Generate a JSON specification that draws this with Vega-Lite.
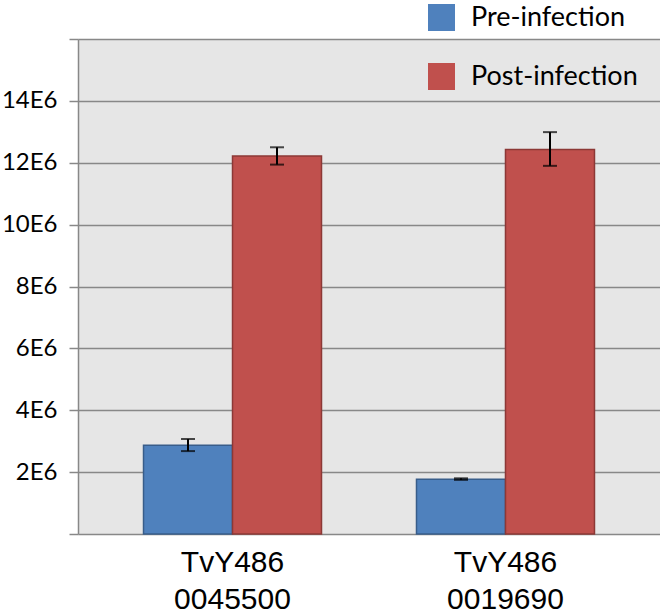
{
  "$schema": "https://vega.github.io/schema/vega-lite/v6.json",
  "width": 582,
  "height": 495,
  "autosize": "none",
  "padding": {"left": 78, "top": 39, "right": 0, "bottom": 80},
  "background": "white",
  "config": {
    "view": {"fill": "#E6E6E6", "stroke": null},
    "font": "Lato"
  },
  "data": {
    "values": [
      {"gene": "TvY486 0045500", "series": "Pre-infection", "value": 2.87e6, "lo": 2.68e6, "hi": 3.07e6},
      {"gene": "TvY486 0045500", "series": "Post-infection", "value": 12.22e6, "lo": 11.94e6, "hi": 12.5e6},
      {"gene": "TvY486 0019690", "series": "Pre-infection", "value": 1.77e6, "lo": 1.75e6, "hi": 1.8e6},
      {"gene": "TvY486 0019690", "series": "Post-infection", "value": 12.43e6, "lo": 11.9e6, "hi": 12.99e6}
    ]
  },
  "encoding": {
    "x": {
      "field": "gene",
      "type": "nominal",
      "sort": ["TvY486 0045500", "TvY486 0019690"],
      "scale": {"paddingInner": 0.348, "paddingOuter": 0.24},
      "axis": {
        "title": null,
        "domain": false,
        "ticks": false,
        "labelAngle": 0,
        "labelFont": "Liberation Sans",
        "labelFontSize": 30,
        "labelLineHeight": 37,
        "labelColor": "#000000",
        "labelPadding": 13,
        "labelExpr": "split(datum.value, ' ')"
      }
    },
    "xOffset": {
      "field": "series",
      "type": "nominal",
      "sort": ["Pre-infection", "Post-infection"],
      "scale": {"paddingInner": 0, "paddingOuter": 0}
    }
  },
  "layer": [
    {
      "mark": {"type": "bar", "strokeWidth": 1.5},
      "encoding": {
        "y": {
          "field": "value",
          "type": "quantitative",
          "scale": {"domain": [0, 16000000], "nice": false},
          "axis": {
            "title": null,
            "values": [0, 2000000, 4000000, 6000000, 8000000, 10000000, 12000000, 14000000, 16000000],
            "labelExpr": "datum.value == 0 || datum.value == 16000000 ? '' : (datum.value / 1000000) + 'E6'",
            "labelFontSize": 24,
            "labelFont": "Lato",
            "labelColor": "#000000",
            "labelPadding": 12,
            "tickSize": 9,
            "tickColor": "#888888",
            "tickWidth": 1.5,
            "domainColor": "#888888",
            "domainWidth": 1.5,
            "grid": true,
            "gridColor": "#888888",
            "gridWidth": 1.5,
            "gridOpacity": 1
          }
        },
        "fill": {
          "field": "series",
          "type": "nominal",
          "sort": ["Pre-infection", "Post-infection"],
          "scale": {"domain": ["Pre-infection", "Post-infection"], "range": ["#4F81BD", "#C0504D"]},
          "legend": {
            "title": null,
            "orient": "none",
            "legendX": 350,
            "legendY": -35,
            "symbolType": "square",
            "symbolSize": 729,
            "symbolStrokeWidth": 0,
            "labelFontSize": 27,
            "labelFont": "Lato",
            "labelColor": "#000000",
            "labelOffset": 16,
            "labelLimit": 400,
            "rowPadding": 31,
            "symbolOpacity": 1,
            "fillColor": null
          }
        },
        "stroke": {
          "field": "series",
          "type": "nominal",
          "sort": ["Pre-infection", "Post-infection"],
          "scale": {"domain": ["Pre-infection", "Post-infection"], "range": ["#385D8A", "#8C3836"]},
          "legend": null
        }
      }
    },
    {
      "mark": {"type": "rule", "color": "#000000", "strokeWidth": 2},
      "encoding": {
        "y": {"field": "lo", "type": "quantitative"},
        "y2": {"field": "hi"}
      }
    },
    {
      "mark": {"type": "tick", "color": "#000000", "thickness": 2, "size": 14},
      "encoding": {
        "y": {"field": "lo", "type": "quantitative"}
      }
    },
    {
      "mark": {"type": "tick", "color": "#000000", "thickness": 2, "size": 14},
      "encoding": {
        "y": {"field": "hi", "type": "quantitative"}
      }
    }
  ]
}
